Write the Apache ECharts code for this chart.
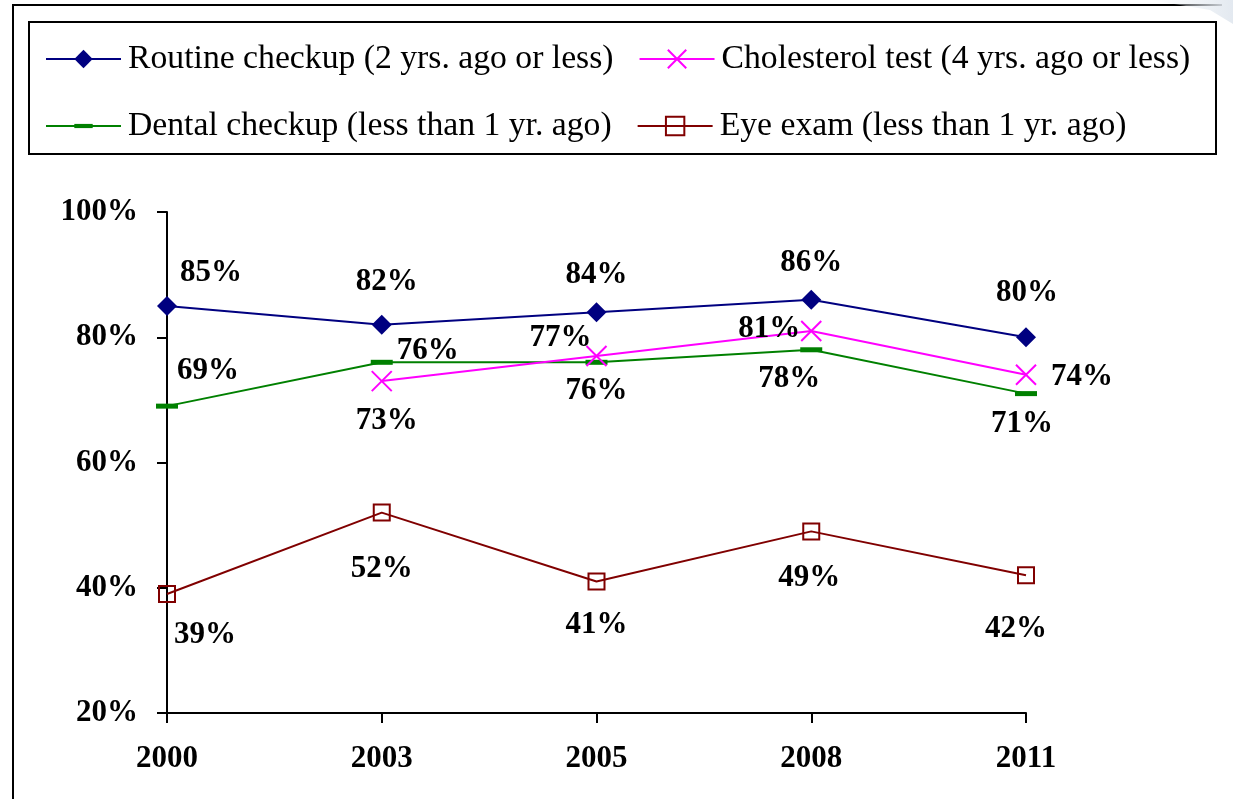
<!DOCTYPE html>
<html>
<head>
<meta charset="utf-8">
<script src="https://cdn.jsdelivr.net/npm/echarts@6/dist/echarts.min.js"></script>
<style>
  html, body { margin: 0; padding: 0; background: #fff; }
  #chart { width: 1233px; height: 799px; }
</style>
</head>
<body>
<div id="chart"></div>
<script>
// data
var years = ['2000', '2003', '2005', '2008', '2011'];
var routine = [85, 82, 84, 86, 80];
var cholesterol = [null, 73, 77, 81, 74];
var dental = [69, 76, 76, 78, 71];
var eye = [39, 52, 41, 49, 42];

var seriesNames = [
  'Routine checkup (2 yrs. ago or less)',
  'Cholesterol test (4 yrs. ago or less)',
  'Dental checkup (less than 1 yr. ago)',
  'Eye exam (less than 1 yr. ago)'
];

// where each value label sits relative to its point [dx, dy]
var routineLabelShift = [[44, -33], [5, -43], [0, -37], [0, -37], [1, -44]];
var cholLabelShift = [null, [5, 40], [-36, -18], [-42, -2], [56, 2]];
var dentalLabelShift = [[41, -35], [46, -11], [0, 29], [-22, 29], [-4, 30]];
var eyeLabelShift = [[38, 41], [0, 56], [0, 43], [-2, 47], [-10, 54]];

var FONT = '"Liberation Serif", "Times New Roman", serif';

function withLabels(values, shifts) {
  return values.map(function (v, i) {
    if (v == null) return null;
    return { value: v, label: { offset: shifts[i] } };
  });
}

var labelStyle = {
  show: true,
  position: 'inside',
  align: 'center',
  verticalAlign: 'middle',
  formatter: '{c}%',
  fontFamily: FONT,
  fontWeight: 'bold',
  fontSize: 31,
  color: '#000'
};

var legendText = { fontFamily: FONT, fontSize: 33.7, color: '#000', padding: [0, 0, 0, 2] };

var chart = echarts.init(document.getElementById('chart'));

var option = {
  backgroundColor: '#fff',
  animation: false,
  graphic: [
    // outer frame (left and top edges only visible)
    { type: 'polyline', shape: { points: [[13, 799], [13, 5], [1222, 5]] },
      style: { stroke: '#000', lineWidth: 2, fill: null } },
    { type: 'polygon', shape: { points: [[1150, 0], [1233, 0], [1233, 24], [1210, 10]] },
      style: { fill: new echarts.graphic.LinearGradient(0, 0, 1, 0, [
        { offset: 0, color: 'rgba(230,236,242,0)' },
        { offset: 1, color: '#e3e9f0' }]) } },
    // legend box
    { type: 'rect', shape: { x: 29, y: 22, width: 1187, height: 132 },
      style: { stroke: '#000', lineWidth: 2, fill: null } }
  ],
  legend: [
    {
      data: [seriesNames[0], seriesNames[1]],
      left: 40, top: 37,
      itemWidth: 75, itemHeight: 23, itemGap: 25,
      textStyle: legendText
    },
    {
      data: [seriesNames[2], seriesNames[3]],
      left: 40, top: 104,
      itemWidth: 75, itemHeight: 23, itemGap: 25,
      textStyle: legendText
    }
  ],
  grid: { left: 167, right: 207, top: 212, bottom: 86 },
  xAxis: {
    type: 'category',
    data: years,
    boundaryGap: false,
    axisLine: { lineStyle: { color: '#000', width: 2 } },
    axisTick: { show: true, length: 10, lineStyle: { color: '#000', width: 2 } },
    axisLabel: { margin: 30, fontFamily: FONT, fontWeight: 'bold', fontSize: 31, color: '#000' },
    splitLine: { show: false }
  },
  yAxis: {
    type: 'value',
    min: 20, max: 100, interval: 20,
    axisLine: { show: true, lineStyle: { color: '#000', width: 2 } },
    axisTick: { show: true, length: 10, lineStyle: { color: '#000', width: 2 } },
    axisLabel: { margin: 29, formatter: '{value}%', fontFamily: FONT, fontWeight: 'bold', fontSize: 31, color: '#000' },
    splitLine: { show: false }
  },
  series: [
    {
      name: seriesNames[0], type: 'line',
      data: withLabels(routine, routineLabelShift),
      symbol: 'diamond', symbolSize: 20,
      itemStyle: { color: '#000080' },
      lineStyle: { color: '#000080', width: 2 },
      label: labelStyle, z: 4
    },
    {
      name: seriesNames[1], type: 'line',
      data: withLabels(cholesterol, cholLabelShift),
      symbol: 'path://M0,0L10,10M10,0L0,10', symbolSize: 20,
      itemStyle: { color: '#ff00ff', borderColor: '#ff00ff', borderWidth: 2 },
      lineStyle: { color: '#ff00ff', width: 2 },
      label: labelStyle, z: 3
    },
    {
      name: seriesNames[2], type: 'line',
      data: withLabels(dental, dentalLabelShift),
      // short dash drawn inside a square box so it keeps its shape in the legend
      symbol: 'path://M0,0M22,22M0,8.5H22V13.5H0Z', symbolSize: 22,
      itemStyle: { color: '#008000' },
      lineStyle: { color: '#008000', width: 2 },
      label: labelStyle, z: 2
    },
    {
      name: seriesNames[3], type: 'line',
      data: withLabels(eye, eyeLabelShift),
      symbol: 'rect', symbolSize: 16,
      itemStyle: { color: 'rgba(255,255,255,0)', borderColor: '#800000', borderWidth: 2 },
      lineStyle: { color: '#800000', width: 2 },
      label: labelStyle, z: 2
    }
  ]
};

chart.setOption(option);
</script>
</body>
</html>
